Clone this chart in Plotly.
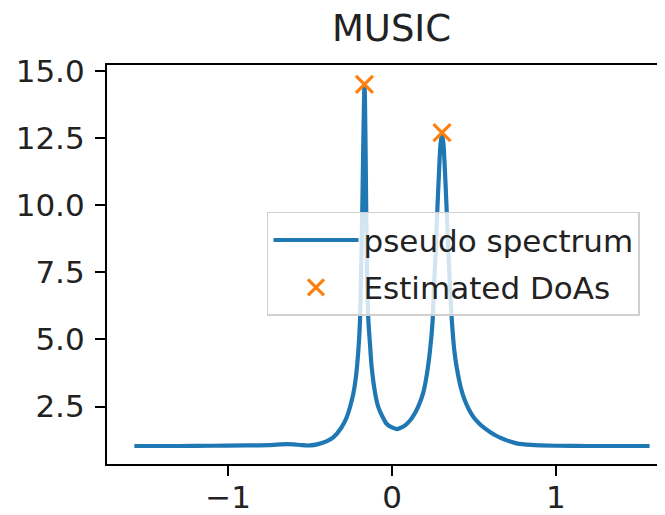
import plotly.graph_objects as go

# Pseudo spectrum (angle in rad, value)
angles = [-1.571, -1.3, -1.1, -0.9, -0.75, -0.68, -0.64, -0.6, -0.55, -0.5,
          -0.45, -0.4, -0.358, -0.31, -0.276, -0.255, -0.236, -0.22, -0.205, -0.195,
          -0.188, -0.182, -0.177, -0.172, -0.168, -0.165, -0.16, -0.155, -0.15, -0.144,
          -0.135, -0.124, -0.1, -0.083, -0.06, -0.032, 0.0, 0.029, 0.05, 0.08,
          0.11, 0.13, 0.16, 0.19, 0.21, 0.232, 0.248, 0.255, 0.265, 0.275,
          0.285, 0.295, 0.305, 0.315, 0.325, 0.335, 0.345, 0.355, 0.365, 0.38,
          0.395, 0.42, 0.44, 0.47, 0.5, 0.53, 0.557, 0.6, 0.63, 0.659, 0.7, 0.76, 0.85,
          1.0, 1.2, 1.4, 1.571]
spectrum = [1.03, 1.03, 1.04, 1.05, 1.06, 1.09, 1.10, 1.09, 1.06, 1.05,
            1.10, 1.20, 1.35, 1.70, 2.10, 2.50, 2.97, 3.60, 4.60, 5.70,
            7.60, 9.50, 11.5, 13.4, 14.5, 14.0, 11.5, 8.60, 6.90, 5.70,
            4.90, 3.97, 2.90, 2.47, 2.15, 1.85, 1.72, 1.66, 1.70, 1.80,
            1.98, 2.15, 2.50, 3.00, 3.60, 4.60, 5.70, 6.80, 8.10, 9.60,
            11.0, 12.2, 12.7, 12.2, 11.0, 9.60, 8.10, 6.80, 5.70, 4.60,
            3.95, 3.20, 2.80, 2.38, 2.08, 1.88, 1.73, 1.54, 1.43, 1.34, 1.24, 1.13, 1.07,
            1.04, 1.03, 1.03, 1.03]

# Estimated DoAs (peaks)
doa_angles = [-0.168, 0.305]
doa_values = [14.5, 12.7]

x_ticks = [-1, 0, 1]
y_ticks = [2.5, 5.0, 7.5, 10.0, 12.5, 15.0]

FONT = "DejaVu Sans"
FS = 31

fig = go.Figure()
fig.add_trace(go.Scatter(
    x=angles, y=spectrum, mode="lines", name="pseudo spectrum",
    legendgroup="a",
    line=dict(color="#1f77b4", width=4.2, shape="spline", smoothing=0.6),
))
fig.add_trace(go.Scatter(
    x=doa_angles, y=doa_values, mode="markers", name="Estimated DoAs",
    legendgroup="b",
    marker=dict(symbol="x-thin", size=17, color="#ff7f0e",
                line=dict(color="#ff7f0e", width=3.2)),
))

fig.update_layout(
    width=665, height=515,
    margin=dict(l=99, r=8, t=57, b=59),
    paper_bgcolor="white", plot_bgcolor="white",
    font=dict(family=FONT, size=FS, color="#222"),
    title=dict(text="MUSIC", x=0.5767, xref="container", xanchor="center",
               y=0.962, yref="container", yanchor="middle",
               font=dict(family=FONT, size=37, color="#222")),
    showlegend=True,
    legend=dict(x=0.2867, y=0.632, xanchor="left", yanchor="top",
                bgcolor="rgba(255,255,255,0.8)", bordercolor="#d0d0d0",
                borderwidth=1.5, font=dict(family=FONT, size=FS, color="#222"),
                itemwidth=85, traceorder="grouped", tracegroupgap=4,
                entrywidth=385, entrywidthmode="pixels"),
)
fig.update_xaxes(
    range=[-1.738, 1.665], tickvals=x_ticks, ticktext=["\u22121", "0", "1"],
    showgrid=False, zeroline=False, showline=True, mirror=True,
    linecolor="black", linewidth=2.2, ticks="outside", ticklen=10,
    tickwidth=2, tickcolor="black", automargin=False, ticklabelstandoff=-5,
)
fig.update_yaxes(
    range=[0.36, 15.22], tickvals=y_ticks,
    ticktext=["2.5", "5.0", "7.5", "10.0", "12.5", "15.0"],
    showgrid=False, zeroline=False, showline=True, mirror=False,
    linecolor="black", linewidth=2.2, ticks="outside", ticklen=10,
    tickwidth=2, tickcolor="black", automargin=False, ticklabelstandoff=4,
)

fig.write_html("out.html")
